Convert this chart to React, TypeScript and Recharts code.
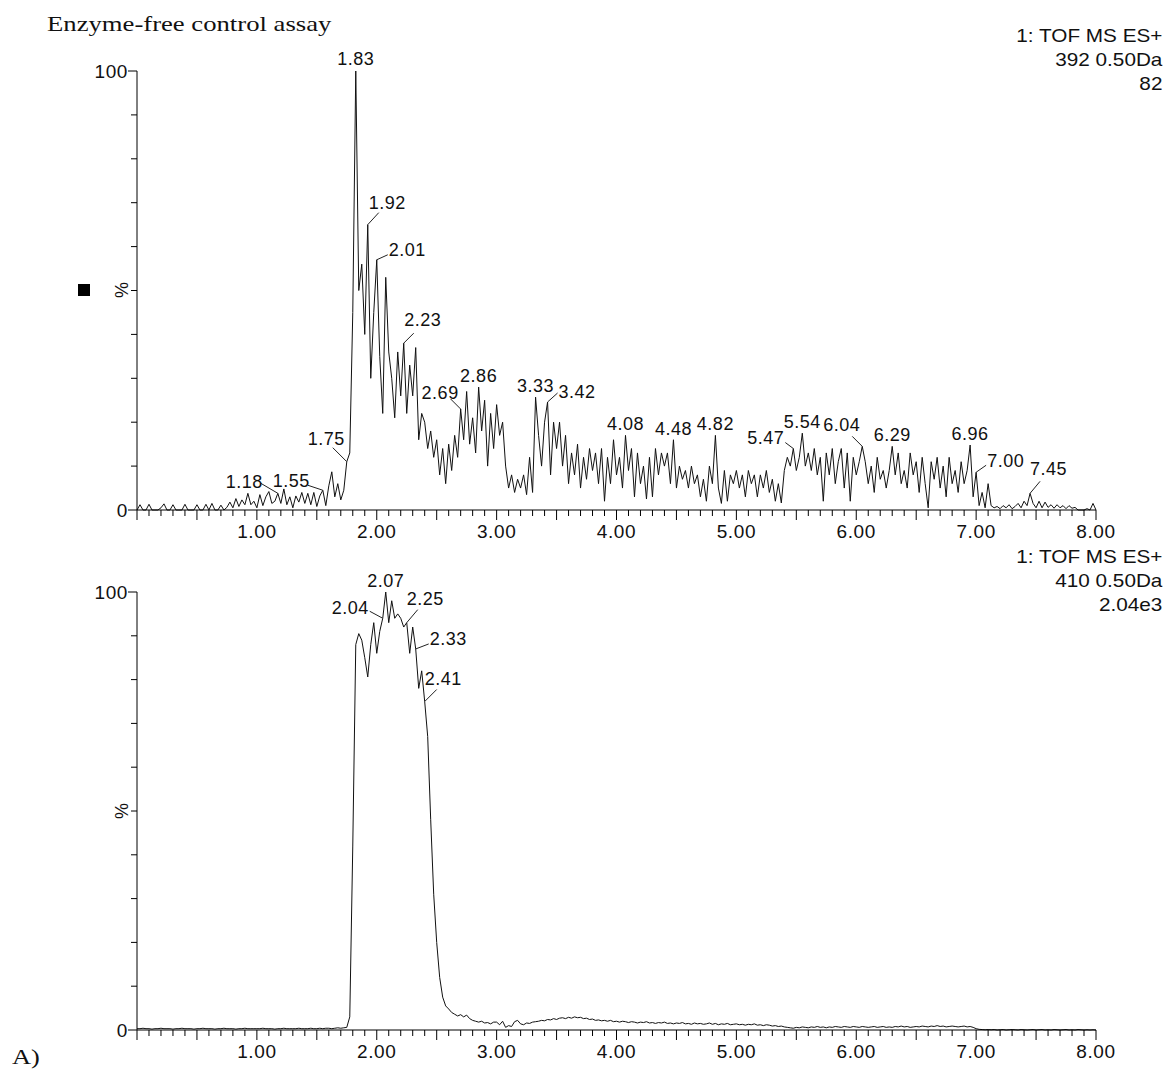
import React from "react";
import { ComposedChart, Line, Scatter, XAxis, YAxis } from "recharts";

// scan interval of the chromatogram, minutes
const STEP = 0.025;

// m/z 392 trace (%), one row per minute, 40 scans per row
const top0 = [0, 1.2, 0, 0, 1.3, 0, 0, 0, 0.5, 1.4, 0, 0, 1.2, 0, 0, 0, 1.3, 0, 0, 0, 1.2, 0, 0, 1.3, 0, 1.5, 0, 0, 1.1, 0, 0.6, 1.8, 0.5, 2.6, 0.8, 2.3, 1.2, 3.8, 1.2, 2.0];
const top1 = [0.5, 3.5, 1.0, 3.0, 4.2, 1.5, 2.0, 3.8, 1.5, 4.8, 1.2, 3.0, 0.5, 3.2, 1.8, 4.0, 1.5, 3.8, 1.2, 4.0, 0.8, 3.2, 4.5, 1.0, 5.5, 8.7, 3.0, 6.0, 2.3, 4.5, 11, 13, 45, 100, 50, 56, 40, 65, 30, 45];
const top2 = [57, 35, 22, 53, 36, 30, 21, 36, 26, 38, 22, 33, 26, 37, 16, 22, 20, 14, 18, 12, 16, 8, 14, 6, 15, 9, 17, 12, 23, 16, 27, 15, 21, 13, 28, 18, 25, 10, 22, 14];
const top3 = [24, 17, 20, 10, 5, 8, 4, 7, 5, 8, 3.5, 12, 4, 25.7, 17, 10, 20, 24.6, 8, 20, 14, 20, 10, 17, 6, 13, 8, 15, 5, 12, 7, 14, 9, 13, 6, 14, 2, 12, 6, 16];
const top4 = [8, 12, 5, 17, 9, 14, 3, 13, 6, 10, 2.5, 12, 3, 14, 8, 13, 10, 13, 6, 16, 5, 10, 7, 9, 5, 10, 6, 8, 3, 7, 2, 10, 6, 17, 5, 1.5, 9, 2, 8, 6];
const top5 = [9, 5, 8, 3, 9, 6, 8, 3, 8, 5, 9, 4, 7, 2, 6, 1.6, 9, 12, 10, 14, 9, 12, 17.5, 10, 13, 9, 14, 8, 12, 2, 13, 8, 14, 6, 11, 14, 5, 13, 2, 12];
const top6 = [8, 11, 14.5, 11, 6, 10, 4, 12, 7, 9, 5, 9, 14.5, 8, 13, 6, 9, 5, 13, 8, 11, 4, 12, 6, 0.5, 11, 7, 12, 5, 10, 3, 12, 6, 9, 4, 11, 6, 9, 14.8, 3];
const top7 = [8.6, 1, 4, 0.5, 6, 1, 0.5, 0.8, 0.3, 1, 0.5, 1.2, 0.3, 0.8, 1.5, 0.5, 2.0, 1.0, 3.8, 1.5, 0.5, 2, 0.5, 1.8, 0.6, 1.2, 0.4, 1.2, 0.5, 1.0, 0.3, 1.0, 0.4, 0.6, 0, 0, 0, 0.3, 0, 1.5];
const topEnd = 0;

// m/z 410 trace (%)
const bot0 = [0.3, 0.3, 0.4, 0.3, 0.3, 0.2, 0.3, 0.3, 0.4, 0.3, 0.3, 0.3, 0.2, 0.3, 0.3, 0.4, 0.3, 0.3, 0.3, 0.2, 0.3, 0.3, 0.4, 0.3, 0.3, 0.3, 0.2, 0.3, 0.3, 0.4, 0.3, 0.3, 0.3, 0.2, 0.3, 0.3, 0.4, 0.3, 0.3, 0.3];
const bot1 = [0.3, 0.3, 0.4, 0.3, 0.3, 0.3, 0.2, 0.3, 0.3, 0.4, 0.3, 0.3, 0.3, 0.3, 0.4, 0.3, 0.3, 0.3, 0.4, 0.3, 0.3, 0.4, 0.3, 0.4, 0.4, 0.3, 0.4, 0.5, 0.4, 0.5, 0.6, 3, 42, 88, 90.5, 89, 85, 80.6, 88, 93];
const bot2 = [86, 91, 94, 100, 93, 98, 94, 95, 94, 92, 93, 86, 92, 87, 78, 82, 75, 67, 48, 31, 20, 12, 7.5, 5.5, 4.8, 4.0, 3.6, 3.2, 3.5, 3.0, 3.4, 2.6, 2.2, 2.0, 1.8, 2.0, 1.6, 1.7, 1.4, 1.8];
const bot3 = [1.8, 1.2, 2.0, 0.6, 1.0, 0.8, 1.9, 2.2, 1.4, 1.2, 1.6, 1.5, 1.8, 1.9, 2.0, 2.2, 2.1, 2.4, 2.3, 2.6, 2.4, 2.7, 2.8, 2.6, 2.9, 2.7, 3.0, 2.8, 2.9, 2.6, 2.7, 2.4, 2.5, 2.2, 2.3, 2.1, 2.2, 2.0, 2.2, 1.9];
const bot4 = [2.0, 1.8, 2.0, 1.9, 1.7, 1.9, 1.8, 1.6, 1.8, 1.7, 1.9, 1.6, 1.7, 1.5, 1.7, 1.6, 1.8, 1.5, 1.6, 1.4, 1.6, 1.5, 1.7, 1.4, 1.5, 1.3, 1.6, 1.4, 1.5, 1.3, 1.4, 1.6, 1.3, 1.5, 1.2, 1.4, 1.3, 1.5, 1.2, 1.3];
const bot5 = [1.4, 1.2, 1.3, 1.1, 1.3, 1.2, 1.4, 1.1, 1.2, 1.0, 1.2, 1.1, 0.9, 1.0, 0.8, 0.9, 0.7, 0.6, 0.5, 0.4, 0.6, 0.5, 0.7, 0.6, 0.5, 0.7, 0.6, 0.8, 0.6, 0.7, 0.5, 0.7, 0.6, 0.8, 0.7, 0.6, 0.8, 0.7, 0.6, 0.8];
const bot6 = [0.7, 0.6, 0.8, 0.7, 0.6, 0.7, 0.8, 0.6, 0.7, 0.8, 0.6, 0.7, 0.6, 0.8, 0.7, 0.9, 0.7, 0.8, 0.6, 0.7, 0.8, 0.7, 0.9, 0.8, 0.7, 0.9, 0.8, 1.0, 0.8, 0.9, 0.7, 0.8, 0.9, 0.8, 0.7, 0.8, 0.9, 0.7, 0.8, 0.6];
const bot7 = [0.3, 0.15, 0.1, 0.05, 0.1, 0.05, 0.1, 0, 0.05, 0.1, 0, 0.05, 0.1, 0.05, 0, 0.1, 0.05, 0, 0.05, 0.1, 0, 0.05, 0.1, 0, 0.05, 0, 0.1, 0.05, 0, 0.05, 0.1, 0, 0.05, 0, 0.1, 0.05, 0, 0.05, 0, 0.05];
const botEnd = 0;

// labelled retention times
const topPeaks = ["1.18", "1.55", "1.75", "1.83", "1.92", "2.01", "2.23", "2.69", "2.86", "3.33", "3.42", "4.08", "4.48", "4.82", "5.47", "5.54", "6.04", "6.29", "6.96", "7.00", "7.45"];
const botPeaks = ["2.04", "2.07", "2.25", "2.33", "2.41"];

const xLabels = ["1.00", "2.00", "3.00", "4.00", "5.00", "6.00", "7.00", "8.00"];
const yTicks = [0, 10, 20, 30, 40, 50, 60, 70, 80, 90, 100];
const topInfo = ["1: TOF MS ES+", "392 0.50Da", "82"];
const botInfo = ["1: TOF MS ES+", "410 0.50Da", "2.04e3"];

// leader line end (dx, dy), text offset (dx, dy), anchor
type Place = [number, number, number, number, "start" | "middle" | "end"];
const place: Record<string, Place> = {
  "1.18": [-17, -10, -15, -5, "end"],
  "1.55": [-15, -5, -13, -3, "end"],
  "1.75": [-14, -14, -2, -17, "end"],
  "1.83": [0, 0, 0, -6, "middle"],
  "1.92": [11, -12, 1, -16, "start"],
  "2.01": [11, -5, 12, -4, "start"],
  "2.23": [10, -10, 19, -17, "middle"],
  "2.69": [-10, -10, -2, -10, "end"],
  "3.42": [10, -9, 11, -4, "start"],
  "5.47": [-8, -6, -9, -5, "end"],
  "6.04": [-10, -10, -2, -15, "end"],
  "7.00": [10, -7, 11, -5, "start"],
  "7.45": [10, -12, 0, -18, "start"],
  "2.04": [-13, -7, -14, -4, "end"],
  "2.07": [0, 0, 0, -5, "middle"],
  "2.25": [11, -13, 0, -18, "start"],
  "2.33": [13, -5, 14, -4, "start"],
  "2.41": [12, -12, 0, -17, "start"],
};

const toSeries = (rows: number[][], end: number) =>
  [...rows.flat(), end].map((v, i) => ({ t: +(i * STEP).toFixed(3), v }));

const toPeaks = (labels: string[], series: { t: number; v: number }[]) =>
  labels.map((label) => {
    const p = series[Math.round(parseFloat(label) / STEP)];
    return { t: p.t, v: p.v, label };
  });

const topData = toSeries([top0, top1, top2, top3, top4, top5, top6, top7], topEnd);
const botData = toSeries([bot0, bot1, bot2, bot3, bot4, bot5, bot6, bot7], botEnd);

const xTicks = Array.from({ length: 81 }, (_, i) => i / 10);

const FONT = "'Liberation Sans', Arial, sans-serif";

const XTick = (props: any) => {
  const { x, y, payload } = props;
  const tenth = Math.round(payload.value * 10);
  const major = tenth % 5 === 0;
  const whole = tenth % 10 === 0 && tenth > 0;
  return (
    <g>
      <line x1={x} x2={x} y1={y} y2={y + (major ? 10 : 6)} stroke="#000" strokeWidth={1} />
      {whole && (
        <text x={x} y={y + 28} textAnchor="middle" fontSize={19} letterSpacing={0.6} fontFamily={FONT} fill="#111">
          {xLabels[tenth / 10 - 1]}
        </text>
      )}
    </g>
  );
};

const YTick = (props: any) => {
  const { x, y, payload } = props;
  const end = payload.value === 0 || payload.value === 100;
  return (
    <g>
      <line x1={x - (end ? 9 : 6)} x2={x} y1={y} y2={y} stroke="#000" strokeWidth={1} />
      {end && (
        <text x={x - 9} y={y + 7} textAnchor="end" fontSize={19} letterSpacing={0.6} fontFamily={FONT} fill="#111">
          {payload.value}
        </text>
      )}
    </g>
  );
};

const PeakLabel = (props: any) => {
  const { cx, cy, payload } = props;
  const [ldx, ldy, tdx, tdy, anchor] = place[payload.label] ?? [0, 0, 0, -5, "middle"];
  return (
    <g>
      {(ldx !== 0 || ldy !== 0) && (
        <line x1={cx} y1={cy} x2={cx + ldx} y2={cy + ldy} stroke="#222" strokeWidth={1} />
      )}
      <text x={cx + tdx} y={cy + tdy} textAnchor={anchor} fontSize={18} letterSpacing={0.5} fontFamily={FONT} fill="#111">
        {payload.label}
      </text>
    </g>
  );
};

function Trace({ data, peaks, height, top, bottom }: any) {
  return (
    <ComposedChart width={1164} height={height} data={data} margin={{ top, right: 68, bottom, left: 97 }}>
      <XAxis
        dataKey="t"
        type="number"
        domain={[0, 8]}
        ticks={xTicks}
        interval={0}
        tickSize={0}
        tickMargin={0}
        tickLine={false}
        tick={XTick}
        axisLine={{ stroke: "#000" }}
      />
      <YAxis
        type="number"
        domain={[0, 100]}
        ticks={yTicks}
        interval={0}
        width={40}
        tickSize={0}
        tickMargin={0}
        tickLine={false}
        tick={YTick}
        axisLine={{ stroke: "#000" }}
      />
      <Line type="linear" dataKey="v" stroke="#111" strokeWidth={1} dot={false} isAnimationActive={false} />
      <Scatter data={peaks} dataKey="v" shape={PeakLabel} isAnimationActive={false} />
    </ComposedChart>
  );
}

const infoStyle: React.CSSProperties = {
  position: "absolute",
  right: 2,
  textAlign: "right",
  fontSize: 18.5,
  lineHeight: "24px",
  transform: "scaleX(1.12)",
  transformOrigin: "right top",
  whiteSpace: "nowrap",
};

export default function App() {
  return (
    <div style={{ position: "relative", width: 1164, height: 1072, fontFamily: FONT, color: "#111", background: "#fff" }}>
      <style>{`body{margin:0}`}</style>
      <div
        style={{
          position: "absolute",
          left: 47,
          top: 12,
          fontFamily: "'Liberation Serif', 'Times New Roman', serif",
          fontSize: 21,
          lineHeight: "24px",
          transform: "scaleX(1.27)",
          transformOrigin: "left top",
          whiteSpace: "nowrap",
        }}
      >
        Enzyme-free control assay
      </div>
      <div style={{ ...infoStyle, top: 24 }}>
        {topInfo.map((s) => (
          <div key={s}>{s}</div>
        ))}
      </div>
      <div style={{ ...infoStyle, top: 545 }}>
        {botInfo.map((s) => (
          <div key={s}>{s}</div>
        ))}
      </div>
      <div style={{ position: "absolute", left: 78, top: 284, width: 12, height: 12, background: "#000" }} />
      <div style={{ position: "absolute", left: 110, top: 278, width: 24, height: 24, lineHeight: "24px", textAlign: "center", fontSize: 18, transform: "rotate(-90deg)" }}>%</div>
      <div style={{ position: "absolute", left: 110, top: 799, width: 24, height: 24, lineHeight: "24px", textAlign: "center", fontSize: 18, transform: "rotate(-90deg)" }}>%</div>
      <div
        style={{
          position: "absolute",
          left: 12,
          top: 1043,
          fontFamily: "'Liberation Serif', 'Times New Roman', serif",
          fontSize: 22,
          lineHeight: "28px",
          transform: "scaleX(1.2)",
          transformOrigin: "left top",
        }}
      >
        A)
      </div>
      <div style={{ position: "absolute", left: 0, top: 0 }}>
        <Trace data={topData} peaks={toPeaks(topPeaks, topData)} height={545} top={71} bottom={5} />
      </div>
      <div style={{ position: "absolute", left: 0, top: 545 }}>
        <Trace data={botData} peaks={toPeaks(botPeaks, botData)} height={527} top={47} bottom={12} />
      </div>
    </div>
  );
}
